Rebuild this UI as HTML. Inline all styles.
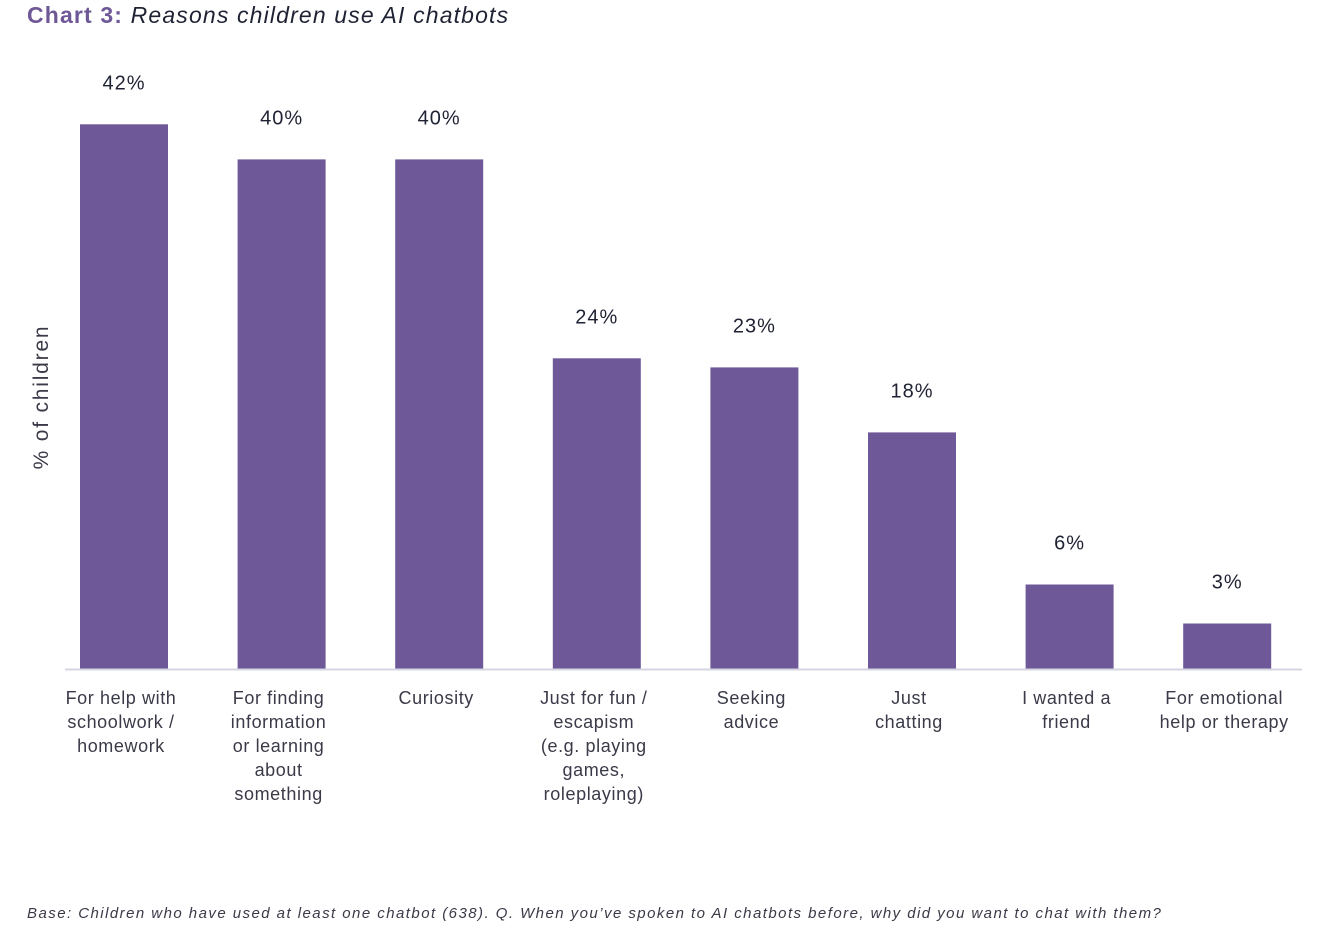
<!DOCTYPE html>
<html><head><meta charset="utf-8"><style>
body{margin:0;width:1324px;height:940px;background:#fff;overflow:hidden;font-family:"Liberation Sans",sans-serif}
#title{position:absolute;left:27px;top:2px;font-size:23px;letter-spacing:1.15px;color:#1f2233;white-space:nowrap}
#title b{color:#6e5897}
#foot{position:absolute;left:27px;top:905px;font-size:15px;letter-spacing:1.45px;font-style:italic;color:#3a3a48;white-space:nowrap}
svg{position:absolute;left:0;top:0}
</style></head><body>
<div id="title"><b>Chart 3:</b> <i>Reasons children use AI chatbots</i></div>
<svg id="chart" width="1324" height="940"></svg>
<div id="foot">Base: Children who have used at least one chatbot (638). Q. When you’ve spoken to AI chatbots before, why did you want to chat with them?</div>
<script>
const categories=[["For help with","schoolwork /","homework"],["For finding","information","or learning","about","something"],["Curiosity"],["Just for fun /","escapism","(e.g. playing","games,","roleplaying)"],["Seeking","advice"],["Just","chatting"],["I wanted a","friend"],["For emotional","help or therapy"]];
const values=[41.9,39.2,39.2,23.9,23.2,18.2,6.5,3.5];
const valueLabels=["42%","40%","40%","24%","23%","18%","6%","3%"];
const NS="http://www.w3.org/2000/svg";
const svg=document.getElementById('chart');
const baseY=669,pxPer=13,x0=80,step=157.6,bw=88;
function y(v){return baseY-v*pxPer;}
function x(i){return x0+i*step;}
function mk(t,a){const e=document.createElementNS(NS,t);for(const k in a)e.setAttribute(k,a[k]);svg.appendChild(e);return e;}
values.forEach((v,i)=>{
 const r=mk('rect',{x:x(i),y:y(v),width:bw,height:baseY-y(v),fill:'#6e5897'});
 
 
 const t=mk('text',{x:x(i)+bw/2,y:y(v)-35,'text-anchor':'middle','font-size':20,'letter-spacing':1,fill:'#1f2233'});
 t.textContent=valueLabels[i];
 
 
 categories[i].forEach((ln,j)=>{
  const c=mk('text',{x:x(i)+bw/2-3,y:704+j*24,'text-anchor':'middle','font-size':18,'letter-spacing':0.6,fill:'#3a3a48'});
  c.textContent=ln;
  
  
 });
});
const ax=mk('line',{x1:65,x2:1302,y1:baseY+0.5,y2:baseY+0.5,stroke:'#d4d6e2','stroke-width':2});


const yt=mk('text',{x:0,y:0,transform:'translate(48,397) rotate(-90)','text-anchor':'middle','font-size':21,'letter-spacing':1.8,fill:'#3a3a48'});
yt.textContent='% of children';


</script>
</body></html>
